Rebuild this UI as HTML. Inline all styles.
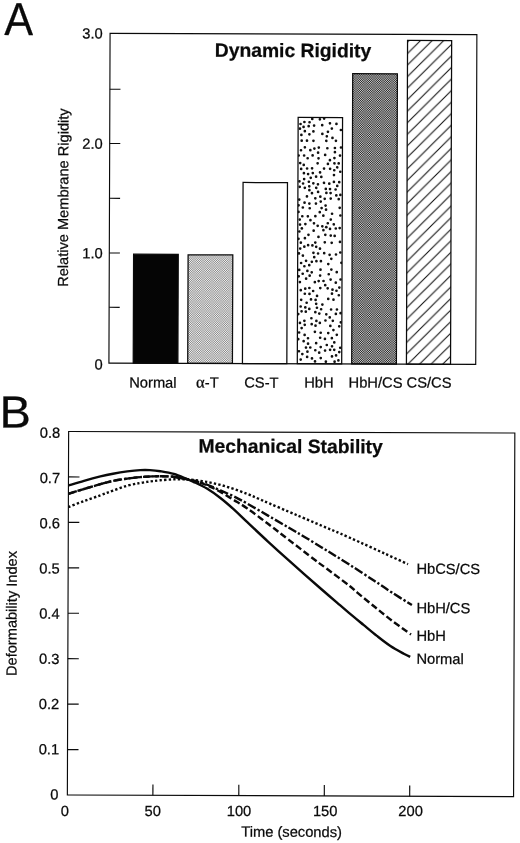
<!DOCTYPE html>
<html lang="en">
<head>
<meta charset="utf-8">
<title>Dynamic Rigidity and Mechanical Stability</title>
<style>
html,body{margin:0;padding:0;background:#fff;}
body{width:520px;height:843px;overflow:hidden;}
svg{display:block;will-change:transform;}
svg text{font-family:"Liberation Sans", "DejaVu Sans", sans-serif;fill:#0a0a0a;stroke:#0a0a0a;stroke-width:0.25px;}
</style>
</head>
<body>
<svg width="520" height="843" viewBox="0 0 520 843">
<rect width="520" height="843" fill="#ffffff"/>
<defs>
<pattern id="ltone" width="9" height="9" patternUnits="userSpaceOnUse" patternTransform="rotate(-0.2 260.0 421.5)"><rect width="9" height="9" fill="#bdbdbd"/><rect x="0" y="0" width="1" height="1" fill="#f5f5f5"/><rect x="1" y="0" width="1" height="1" fill="#888888"/><rect x="2" y="0" width="1" height="1" fill="#e8e8e8"/><rect x="3" y="0" width="1" height="1" fill="#a1a1a1"/><rect x="4" y="0" width="1" height="1" fill="#c7c7c7"/><rect x="5" y="0" width="1" height="1" fill="#c7c7c7"/><rect x="6" y="0" width="1" height="1" fill="#a1a1a1"/><rect x="7" y="0" width="1" height="1" fill="#e8e8e8"/><rect x="8" y="0" width="1" height="1" fill="#888888"/><rect x="0" y="1" width="1" height="1" fill="#888888"/><rect x="1" y="1" width="1" height="1" fill="#eeeeee"/><rect x="2" y="1" width="1" height="1" fill="#959595"/><rect x="3" y="1" width="1" height="1" fill="#d7d7d7"/><rect x="4" y="1" width="1" height="1" fill="#b4b4b4"/><rect x="5" y="1" width="1" height="1" fill="#b4b4b4"/><rect x="6" y="1" width="1" height="1" fill="#d7d7d7"/><rect x="7" y="1" width="1" height="1" fill="#959595"/><rect x="8" y="1" width="1" height="1" fill="#eeeeee"/><rect x="0" y="2" width="1" height="1" fill="#e8e8e8"/><rect x="1" y="2" width="1" height="1" fill="#959595"/><rect x="2" y="2" width="1" height="1" fill="#dedede"/><rect x="3" y="2" width="1" height="1" fill="#a8a8a8"/><rect x="4" y="2" width="1" height="1" fill="#c4c4c4"/><rect x="5" y="2" width="1" height="1" fill="#c4c4c4"/><rect x="6" y="2" width="1" height="1" fill="#a8a8a8"/><rect x="7" y="2" width="1" height="1" fill="#dedede"/><rect x="8" y="2" width="1" height="1" fill="#959595"/><rect x="0" y="3" width="1" height="1" fill="#a1a1a1"/><rect x="1" y="3" width="1" height="1" fill="#d7d7d7"/><rect x="2" y="3" width="1" height="1" fill="#a8a8a8"/><rect x="3" y="3" width="1" height="1" fill="#cbcbcb"/><rect x="4" y="3" width="1" height="1" fill="#b8b8b8"/><rect x="5" y="3" width="1" height="1" fill="#b8b8b8"/><rect x="6" y="3" width="1" height="1" fill="#cbcbcb"/><rect x="7" y="3" width="1" height="1" fill="#a8a8a8"/><rect x="8" y="3" width="1" height="1" fill="#d7d7d7"/><rect x="0" y="4" width="1" height="1" fill="#c7c7c7"/><rect x="1" y="4" width="1" height="1" fill="#b4b4b4"/><rect x="2" y="4" width="1" height="1" fill="#c4c4c4"/><rect x="3" y="4" width="1" height="1" fill="#b8b8b8"/><rect x="4" y="4" width="1" height="1" fill="#bfbfbf"/><rect x="5" y="4" width="1" height="1" fill="#bfbfbf"/><rect x="6" y="4" width="1" height="1" fill="#b8b8b8"/><rect x="7" y="4" width="1" height="1" fill="#c4c4c4"/><rect x="8" y="4" width="1" height="1" fill="#b4b4b4"/><rect x="0" y="5" width="1" height="1" fill="#c7c7c7"/><rect x="1" y="5" width="1" height="1" fill="#b4b4b4"/><rect x="2" y="5" width="1" height="1" fill="#c4c4c4"/><rect x="3" y="5" width="1" height="1" fill="#b8b8b8"/><rect x="4" y="5" width="1" height="1" fill="#bfbfbf"/><rect x="5" y="5" width="1" height="1" fill="#bfbfbf"/><rect x="6" y="5" width="1" height="1" fill="#b8b8b8"/><rect x="7" y="5" width="1" height="1" fill="#c4c4c4"/><rect x="8" y="5" width="1" height="1" fill="#b4b4b4"/><rect x="0" y="6" width="1" height="1" fill="#a1a1a1"/><rect x="1" y="6" width="1" height="1" fill="#d7d7d7"/><rect x="2" y="6" width="1" height="1" fill="#a8a8a8"/><rect x="3" y="6" width="1" height="1" fill="#cbcbcb"/><rect x="4" y="6" width="1" height="1" fill="#b8b8b8"/><rect x="5" y="6" width="1" height="1" fill="#b8b8b8"/><rect x="6" y="6" width="1" height="1" fill="#cbcbcb"/><rect x="7" y="6" width="1" height="1" fill="#a8a8a8"/><rect x="8" y="6" width="1" height="1" fill="#d7d7d7"/><rect x="0" y="7" width="1" height="1" fill="#e8e8e8"/><rect x="1" y="7" width="1" height="1" fill="#959595"/><rect x="2" y="7" width="1" height="1" fill="#dedede"/><rect x="3" y="7" width="1" height="1" fill="#a8a8a8"/><rect x="4" y="7" width="1" height="1" fill="#c4c4c4"/><rect x="5" y="7" width="1" height="1" fill="#c4c4c4"/><rect x="6" y="7" width="1" height="1" fill="#a8a8a8"/><rect x="7" y="7" width="1" height="1" fill="#dedede"/><rect x="8" y="7" width="1" height="1" fill="#959595"/><rect x="0" y="8" width="1" height="1" fill="#888888"/><rect x="1" y="8" width="1" height="1" fill="#eeeeee"/><rect x="2" y="8" width="1" height="1" fill="#959595"/><rect x="3" y="8" width="1" height="1" fill="#d7d7d7"/><rect x="4" y="8" width="1" height="1" fill="#b4b4b4"/><rect x="5" y="8" width="1" height="1" fill="#b4b4b4"/><rect x="6" y="8" width="1" height="1" fill="#d7d7d7"/><rect x="7" y="8" width="1" height="1" fill="#959595"/><rect x="8" y="8" width="1" height="1" fill="#eeeeee"/></pattern>
<pattern id="dtone" width="9" height="9" patternUnits="userSpaceOnUse" patternTransform="rotate(-0.2 260.0 421.5)"><rect width="9" height="9" fill="#787878"/><rect x="0" y="0" width="1" height="1" fill="#cacaca"/><rect x="1" y="0" width="1" height="1" fill="#2b2b2b"/><rect x="2" y="0" width="1" height="1" fill="#b7b7b7"/><rect x="3" y="0" width="1" height="1" fill="#4f4f4f"/><rect x="4" y="0" width="1" height="1" fill="#868686"/><rect x="5" y="0" width="1" height="1" fill="#868686"/><rect x="6" y="0" width="1" height="1" fill="#4f4f4f"/><rect x="7" y="0" width="1" height="1" fill="#b7b7b7"/><rect x="8" y="0" width="1" height="1" fill="#2b2b2b"/><rect x="0" y="1" width="1" height="1" fill="#2b2b2b"/><rect x="1" y="1" width="1" height="1" fill="#c0c0c0"/><rect x="2" y="1" width="1" height="1" fill="#3d3d3d"/><rect x="3" y="1" width="1" height="1" fill="#9f9f9f"/><rect x="4" y="1" width="1" height="1" fill="#6b6b6b"/><rect x="5" y="1" width="1" height="1" fill="#6b6b6b"/><rect x="6" y="1" width="1" height="1" fill="#9f9f9f"/><rect x="7" y="1" width="1" height="1" fill="#3d3d3d"/><rect x="8" y="1" width="1" height="1" fill="#c0c0c0"/><rect x="0" y="2" width="1" height="1" fill="#b7b7b7"/><rect x="1" y="2" width="1" height="1" fill="#3d3d3d"/><rect x="2" y="2" width="1" height="1" fill="#a8a8a8"/><rect x="3" y="2" width="1" height="1" fill="#595959"/><rect x="4" y="2" width="1" height="1" fill="#838383"/><rect x="5" y="2" width="1" height="1" fill="#838383"/><rect x="6" y="2" width="1" height="1" fill="#595959"/><rect x="7" y="2" width="1" height="1" fill="#a8a8a8"/><rect x="8" y="2" width="1" height="1" fill="#3d3d3d"/><rect x="0" y="3" width="1" height="1" fill="#4f4f4f"/><rect x="1" y="3" width="1" height="1" fill="#9f9f9f"/><rect x="2" y="3" width="1" height="1" fill="#595959"/><rect x="3" y="3" width="1" height="1" fill="#8c8c8c"/><rect x="4" y="3" width="1" height="1" fill="#717171"/><rect x="5" y="3" width="1" height="1" fill="#717171"/><rect x="6" y="3" width="1" height="1" fill="#8d8d8d"/><rect x="7" y="3" width="1" height="1" fill="#595959"/><rect x="8" y="3" width="1" height="1" fill="#9f9f9f"/><rect x="0" y="4" width="1" height="1" fill="#868686"/><rect x="1" y="4" width="1" height="1" fill="#6b6b6b"/><rect x="2" y="4" width="1" height="1" fill="#838383"/><rect x="3" y="4" width="1" height="1" fill="#717171"/><rect x="4" y="4" width="1" height="1" fill="#7a7a7a"/><rect x="5" y="4" width="1" height="1" fill="#7a7a7a"/><rect x="6" y="4" width="1" height="1" fill="#717171"/><rect x="7" y="4" width="1" height="1" fill="#838383"/><rect x="8" y="4" width="1" height="1" fill="#6b6b6b"/><rect x="0" y="5" width="1" height="1" fill="#868686"/><rect x="1" y="5" width="1" height="1" fill="#6b6b6b"/><rect x="2" y="5" width="1" height="1" fill="#838383"/><rect x="3" y="5" width="1" height="1" fill="#717171"/><rect x="4" y="5" width="1" height="1" fill="#7a7a7a"/><rect x="5" y="5" width="1" height="1" fill="#7a7a7a"/><rect x="6" y="5" width="1" height="1" fill="#717171"/><rect x="7" y="5" width="1" height="1" fill="#838383"/><rect x="8" y="5" width="1" height="1" fill="#6b6b6b"/><rect x="0" y="6" width="1" height="1" fill="#4f4f4f"/><rect x="1" y="6" width="1" height="1" fill="#9f9f9f"/><rect x="2" y="6" width="1" height="1" fill="#595959"/><rect x="3" y="6" width="1" height="1" fill="#8d8d8d"/><rect x="4" y="6" width="1" height="1" fill="#717171"/><rect x="5" y="6" width="1" height="1" fill="#717171"/><rect x="6" y="6" width="1" height="1" fill="#8d8d8d"/><rect x="7" y="6" width="1" height="1" fill="#595959"/><rect x="8" y="6" width="1" height="1" fill="#9f9f9f"/><rect x="0" y="7" width="1" height="1" fill="#b7b7b7"/><rect x="1" y="7" width="1" height="1" fill="#3d3d3d"/><rect x="2" y="7" width="1" height="1" fill="#a8a8a8"/><rect x="3" y="7" width="1" height="1" fill="#595959"/><rect x="4" y="7" width="1" height="1" fill="#838383"/><rect x="5" y="7" width="1" height="1" fill="#838383"/><rect x="6" y="7" width="1" height="1" fill="#595959"/><rect x="7" y="7" width="1" height="1" fill="#a8a8a8"/><rect x="8" y="7" width="1" height="1" fill="#3d3d3d"/><rect x="0" y="8" width="1" height="1" fill="#2b2b2b"/><rect x="1" y="8" width="1" height="1" fill="#c0c0c0"/><rect x="2" y="8" width="1" height="1" fill="#3d3d3d"/><rect x="3" y="8" width="1" height="1" fill="#9f9f9f"/><rect x="4" y="8" width="1" height="1" fill="#6b6b6b"/><rect x="5" y="8" width="1" height="1" fill="#6b6b6b"/><rect x="6" y="8" width="1" height="1" fill="#9f9f9f"/><rect x="7" y="8" width="1" height="1" fill="#3d3d3d"/><rect x="8" y="8" width="1" height="1" fill="#c0c0c0"/></pattern>
<pattern id="hatch" width="11.56" height="11.56" patternUnits="userSpaceOnUse" x="8.37" y="0"><path d="M-1,1 L1,-1 M0,11.56 L11.56,0 M10.56,12.56 L12.56,10.56" stroke="#111" stroke-width="1.1" fill="none"/></pattern>
</defs>
<g transform="rotate(0.2 260.0 421.5)">
<g id="panelA">
<rect x="133.02" y="254.66" width="44.65" height="108.93" fill="#050505" stroke="#0a0a0a" stroke-width="1.25"/>
<rect x="187.52" y="255.02" width="44.7" height="108.57" fill="url(#ltone)" stroke="#0a0a0a" stroke-width="1.25"/>
<rect x="242.24" y="182.53" width="44.4" height="181.06" fill="#ffffff" stroke="#0a0a0a" stroke-width="1.25"/>
<rect x="297.1" y="117.34" width="44.4" height="246.25" fill="#ffffff" stroke="#0a0a0a" stroke-width="1.25"/>
<clipPath id="dotclip"><rect x="297.1" y="117.34" width="44.4" height="246.25"/></clipPath>
<g fill="#111" clip-path="url(#dotclip)"><circle cx="311.69" cy="155.26" r="1.35"/><circle cx="325.82" cy="136.07" r="1.35"/><circle cx="320.85" cy="207.85" r="1.35"/><circle cx="300.21" cy="242.54" r="1.35"/><circle cx="299.32" cy="224.48" r="1.35"/><circle cx="300.72" cy="140.54" r="1.35"/><circle cx="316.04" cy="320.72" r="1.35"/><circle cx="303.05" cy="172.98" r="1.35"/><circle cx="324.81" cy="350.3" r="1.35"/><circle cx="322.63" cy="215.43" r="1.35"/><circle cx="339.88" cy="129.74" r="1.35"/><circle cx="334.79" cy="189.22" r="1.35"/><circle cx="303.93" cy="147.17" r="1.35"/><circle cx="311.03" cy="318.09" r="1.35"/><circle cx="305.51" cy="260.69" r="1.35"/><circle cx="325.3" cy="209.49" r="1.35"/><circle cx="321.36" cy="133.71" r="1.35"/><circle cx="300.28" cy="168.75" r="1.35"/><circle cx="327.1" cy="223" r="1.35"/><circle cx="311.27" cy="261.66" r="1.35"/><circle cx="317.28" cy="191.71" r="1.35"/><circle cx="332.02" cy="289.42" r="1.35"/><circle cx="320.39" cy="332.54" r="1.35"/><circle cx="329.21" cy="188.82" r="1.35"/><circle cx="340.05" cy="147.24" r="1.35"/><circle cx="315.76" cy="303.65" r="1.35"/><circle cx="304.27" cy="238.02" r="1.35"/><circle cx="299.4" cy="281.89" r="1.35"/><circle cx="330.73" cy="258.59" r="1.35"/><circle cx="335.52" cy="195.13" r="1.35"/><circle cx="327.74" cy="263.82" r="1.35"/><circle cx="322.75" cy="230" r="1.35"/><circle cx="333.99" cy="349.56" r="1.35"/><circle cx="318.18" cy="280.9" r="1.35"/><circle cx="300.32" cy="290.03" r="1.35"/><circle cx="325.66" cy="361.41" r="1.35"/><circle cx="314.37" cy="282" r="1.35"/><circle cx="298.68" cy="231.34" r="1.35"/><circle cx="300.25" cy="306.37" r="1.35"/><circle cx="303.29" cy="178.95" r="1.35"/><circle cx="314.59" cy="331.63" r="1.35"/><circle cx="301.18" cy="228.28" r="1.35"/><circle cx="333.09" cy="329.81" r="1.35"/><circle cx="309.73" cy="219.99" r="1.35"/><circle cx="339.08" cy="155.28" r="1.35"/><circle cx="323.15" cy="182.65" r="1.35"/><circle cx="313.65" cy="256.96" r="1.35"/><circle cx="338.88" cy="287.34" r="1.35"/><circle cx="319.97" cy="269.5" r="1.35"/><circle cx="326.91" cy="131.56" r="1.35"/><circle cx="336.56" cy="309.24" r="1.35"/><circle cx="335.48" cy="313.62" r="1.35"/><circle cx="314.65" cy="215.99" r="1.35"/><circle cx="302.17" cy="273.59" r="1.35"/><circle cx="300.39" cy="134.83" r="1.35"/><circle cx="306.72" cy="158.07" r="1.35"/><circle cx="312.39" cy="131.21" r="1.35"/><circle cx="297.71" cy="155.36" r="1.35"/><circle cx="302.09" cy="207.34" r="1.35"/><circle cx="298.8" cy="332.34" r="1.35"/><circle cx="324.23" cy="154.7" r="1.35"/><circle cx="308.6" cy="203.37" r="1.35"/><circle cx="313.43" cy="148.41" r="1.35"/><circle cx="334.38" cy="361.41" r="1.35"/><circle cx="317.83" cy="236.76" r="1.35"/><circle cx="312.5" cy="183.14" r="1.35"/><circle cx="333.51" cy="157.85" r="1.35"/><circle cx="298.7" cy="351.1" r="1.35"/><circle cx="321.17" cy="124.96" r="1.35"/><circle cx="320.52" cy="357.83" r="1.35"/><circle cx="308.98" cy="208.09" r="1.35"/><circle cx="304.92" cy="307.28" r="1.35"/><circle cx="320.71" cy="309.02" r="1.35"/><circle cx="311.94" cy="172.93" r="1.35"/><circle cx="333.05" cy="299.43" r="1.35"/><circle cx="307.5" cy="245.04" r="1.35"/><circle cx="313.06" cy="125.43" r="1.35"/><circle cx="298.91" cy="186.73" r="1.35"/><circle cx="308.9" cy="287.84" r="1.35"/><circle cx="339.02" cy="227.8" r="1.35"/><circle cx="338.18" cy="360.17" r="1.35"/><circle cx="338.96" cy="207.59" r="1.35"/><circle cx="307.23" cy="173.86" r="1.35"/><circle cx="306.2" cy="168.36" r="1.35"/><circle cx="324.66" cy="338.7" r="1.35"/><circle cx="334.01" cy="235.69" r="1.35"/><circle cx="325.91" cy="314.06" r="1.35"/><circle cx="330.11" cy="235.34" r="1.35"/><circle cx="305.41" cy="311.49" r="1.35"/><circle cx="339.68" cy="215.22" r="1.35"/><circle cx="315.04" cy="350.07" r="1.35"/><circle cx="329.01" cy="159.95" r="1.35"/><circle cx="303.19" cy="155.34" r="1.35"/><circle cx="304.02" cy="320.63" r="1.35"/><circle cx="340.05" cy="279.21" r="1.35"/><circle cx="312.84" cy="252.63" r="1.35"/><circle cx="303.36" cy="121.83" r="1.35"/><circle cx="320.45" cy="346.85" r="1.35"/><circle cx="333.39" cy="170" r="1.35"/><circle cx="308.58" cy="190.05" r="1.35"/><circle cx="303.36" cy="341.07" r="1.35"/><circle cx="312.99" cy="230.48" r="1.35"/><circle cx="315.87" cy="342.96" r="1.35"/><circle cx="319.37" cy="248.51" r="1.35"/><circle cx="316.72" cy="163.16" r="1.35"/><circle cx="297.87" cy="313.94" r="1.35"/><circle cx="329.03" cy="254.54" r="1.35"/><circle cx="311.78" cy="245.21" r="1.35"/><circle cx="302.29" cy="255.48" r="1.35"/><circle cx="308.44" cy="186.12" r="1.35"/><circle cx="331.06" cy="242.61" r="1.35"/><circle cx="321.97" cy="304.35" r="1.35"/><circle cx="324.16" cy="242.08" r="1.35"/><circle cx="319.83" cy="287.89" r="1.35"/><circle cx="327.91" cy="332.88" r="1.35"/><circle cx="338.4" cy="181.88" r="1.35"/><circle cx="333.99" cy="151.91" r="1.35"/><circle cx="331.57" cy="337.89" r="1.35"/><circle cx="304.37" cy="293.61" r="1.35"/><circle cx="335.84" cy="355.15" r="1.35"/><circle cx="307.19" cy="351.47" r="1.35"/><circle cx="340.46" cy="322.09" r="1.35"/><circle cx="304.68" cy="223.96" r="1.35"/><circle cx="319.98" cy="201.34" r="1.35"/><circle cx="306.16" cy="196.3" r="1.35"/><circle cx="328.9" cy="123.11" r="1.35"/><circle cx="321.64" cy="226.15" r="1.35"/><circle cx="298.48" cy="199.48" r="1.35"/><circle cx="300.48" cy="359.44" r="1.35"/><circle cx="331.76" cy="356.17" r="1.35"/><circle cx="302.23" cy="183.34" r="1.35"/><circle cx="309.39" cy="150.05" r="1.35"/><circle cx="333.08" cy="181.64" r="1.35"/><circle cx="301.32" cy="327.91" r="1.35"/><circle cx="320.46" cy="176.7" r="1.35"/><circle cx="311.18" cy="192.99" r="1.35"/><circle cx="308.52" cy="122.1" r="1.35"/><circle cx="333.08" cy="224.12" r="1.35"/><circle cx="314.68" cy="242.36" r="1.35"/><circle cx="328.23" cy="274" r="1.35"/><circle cx="315.18" cy="203.41" r="1.35"/><circle cx="300.05" cy="150.12" r="1.35"/><circle cx="300.76" cy="299.68" r="1.35"/><circle cx="335.31" cy="282.46" r="1.35"/><circle cx="309.88" cy="177.62" r="1.35"/><circle cx="339.72" cy="252.24" r="1.35"/><circle cx="297.75" cy="211.75" r="1.35"/><circle cx="301.58" cy="216.12" r="1.35"/><circle cx="299.5" cy="123.85" r="1.35"/><circle cx="330.13" cy="279.28" r="1.35"/><circle cx="314.53" cy="198.16" r="1.35"/><circle cx="299.59" cy="322.78" r="1.35"/><circle cx="336.23" cy="271.88" r="1.35"/><circle cx="329.4" cy="317.14" r="1.35"/><circle cx="303.72" cy="246.53" r="1.35"/><circle cx="319.49" cy="322.7" r="1.35"/><circle cx="332.46" cy="320.61" r="1.35"/><circle cx="327.2" cy="288.04" r="1.35"/><circle cx="307.64" cy="125.97" r="1.35"/><circle cx="324.75" cy="284.94" r="1.35"/><circle cx="318.84" cy="119.15" r="1.35"/><circle cx="329.21" cy="168.57" r="1.35"/><circle cx="319.04" cy="211.97" r="1.35"/><circle cx="330.83" cy="269.35" r="1.35"/><circle cx="329.81" cy="192.85" r="1.35"/><circle cx="317.85" cy="147.35" r="1.35"/><circle cx="336.31" cy="167.11" r="1.35"/><circle cx="339.96" cy="347.49" r="1.35"/><circle cx="317.12" cy="184.1" r="1.35"/><circle cx="336.01" cy="290.49" r="1.35"/><circle cx="307.7" cy="338.06" r="1.35"/><circle cx="297.86" cy="238.69" r="1.35"/><circle cx="303.78" cy="202.53" r="1.35"/><circle cx="311.36" cy="323.99" r="1.35"/><circle cx="333.95" cy="147.72" r="1.35"/><circle cx="340.85" cy="262.54" r="1.35"/><circle cx="313.28" cy="223.11" r="1.35"/><circle cx="310.04" cy="347.33" r="1.35"/><circle cx="329.34" cy="228.69" r="1.35"/><circle cx="310.57" cy="299.22" r="1.35"/><circle cx="319.18" cy="172.19" r="1.35"/><circle cx="317.14" cy="152.51" r="1.35"/><circle cx="306.01" cy="140.54" r="1.35"/><circle cx="312.47" cy="140.64" r="1.35"/><circle cx="308.03" cy="181.58" r="1.35"/><circle cx="330.09" cy="219.37" r="1.35"/><circle cx="315.58" cy="246.63" r="1.35"/><circle cx="338.91" cy="326.06" r="1.35"/><circle cx="335.41" cy="123.68" r="1.35"/><circle cx="323.07" cy="118.39" r="1.35"/><circle cx="338.37" cy="294.99" r="1.35"/><circle cx="317.46" cy="253.32" r="1.35"/><circle cx="307.75" cy="343.5" r="1.35"/><circle cx="325.59" cy="192.69" r="1.35"/><circle cx="320.36" cy="261.01" r="1.35"/><circle cx="326.53" cy="344.78" r="1.35"/><circle cx="339.6" cy="194.64" r="1.35"/><circle cx="333.13" cy="174.83" r="1.35"/><circle cx="306.9" cy="356.76" r="1.35"/><circle cx="303.83" cy="131.03" r="1.35"/><circle cx="336.5" cy="334.6" r="1.35"/><circle cx="337.95" cy="198.93" r="1.35"/><circle cx="305.72" cy="347.4" r="1.35"/><circle cx="330.82" cy="128.29" r="1.35"/><circle cx="309.03" cy="293.74" r="1.35"/><circle cx="307.81" cy="234.65" r="1.35"/><circle cx="339.03" cy="351.82" r="1.35"/><circle cx="337.8" cy="163.12" r="1.35"/><circle cx="323.94" cy="198.57" r="1.35"/><circle cx="331.49" cy="137.68" r="1.35"/><circle cx="306.23" cy="302.61" r="1.35"/><circle cx="308.39" cy="134.19" r="1.35"/><circle cx="311.77" cy="358.26" r="1.35"/><circle cx="330.01" cy="325.65" r="1.35"/><circle cx="326.41" cy="148" r="1.35"/><circle cx="304.33" cy="334.75" r="1.35"/><circle cx="314.81" cy="361.25" r="1.35"/><circle cx="334.01" cy="342.14" r="1.35"/><circle cx="302.85" cy="164.74" r="1.35"/><circle cx="335.12" cy="228.26" r="1.35"/><circle cx="308.93" cy="308.71" r="1.35"/><circle cx="308.71" cy="265.05" r="1.35"/><circle cx="327.01" cy="163.66" r="1.35"/><circle cx="311.19" cy="168.13" r="1.35"/><circle cx="325.31" cy="140.65" r="1.35"/><circle cx="304.77" cy="288.54" r="1.35"/><circle cx="315.4" cy="187.68" r="1.35"/><circle cx="297.96" cy="339.02" r="1.35"/><circle cx="317.61" cy="158.12" r="1.35"/><circle cx="298.34" cy="253.34" r="1.35"/><circle cx="304" cy="187.68" r="1.35"/><circle cx="315.18" cy="325.49" r="1.35"/><circle cx="333.52" cy="163.12" r="1.35"/><circle cx="307.13" cy="216.18" r="1.35"/><circle cx="323.6" cy="252.97" r="1.35"/><circle cx="315.85" cy="260.94" r="1.35"/><circle cx="317" cy="225.63" r="1.35"/><circle cx="298.71" cy="269.82" r="1.35"/><circle cx="330.69" cy="309.24" r="1.35"/><circle cx="318.95" cy="352.48" r="1.35"/><circle cx="331.76" cy="346.11" r="1.35"/><circle cx="336.43" cy="185.65" r="1.35"/><circle cx="319.56" cy="196.44" r="1.35"/><circle cx="299.29" cy="162.91" r="1.35"/><circle cx="335.41" cy="254.22" r="1.35"/><circle cx="323.01" cy="280.78" r="1.35"/><circle cx="311.21" cy="118.78" r="1.35"/><circle cx="319.85" cy="337.53" r="1.35"/><circle cx="297.82" cy="205.22" r="1.35"/><circle cx="323.15" cy="168.32" r="1.35"/><circle cx="324.66" cy="234.58" r="1.35"/><circle cx="298.2" cy="276.2" r="1.35"/><circle cx="325.59" cy="226.95" r="1.35"/><circle cx="299.6" cy="248.44" r="1.35"/><circle cx="315.24" cy="176.51" r="1.35"/><circle cx="319.6" cy="275.37" r="1.35"/><circle cx="331.53" cy="293.44" r="1.35"/><circle cx="328.45" cy="183.44" r="1.35"/><circle cx="309.16" cy="275.47" r="1.35"/><circle cx="339.4" cy="171.45" r="1.35"/><circle cx="329.84" cy="349.56" r="1.35"/><circle cx="329.94" cy="198.34" r="1.35"/><circle cx="316.59" cy="295.7" r="1.35"/><circle cx="306.86" cy="270.73" r="1.35"/><circle cx="298.94" cy="128.54" r="1.35"/><circle cx="327.81" cy="298.67" r="1.35"/><circle cx="300.54" cy="262.86" r="1.35"/><circle cx="302.54" cy="126.77" r="1.35"/><circle cx="325.1" cy="320.28" r="1.35"/><circle cx="324.98" cy="188.68" r="1.35"/><circle cx="298.61" cy="181.17" r="1.35"/><circle cx="339.35" cy="241.63" r="1.35"/><circle cx="299.04" cy="219.41" r="1.35"/><circle cx="316.56" cy="307.54" r="1.35"/><circle cx="312.68" cy="290.81" r="1.35"/><circle cx="334.95" cy="140.59" r="1.35"/><circle cx="318.93" cy="313.35" r="1.35"/><circle cx="301.2" cy="311.19" r="1.35"/><circle cx="324.83" cy="205.38" r="1.35"/><circle cx="304.41" cy="324.7" r="1.35"/><circle cx="302.1" cy="353.89" r="1.35"/><circle cx="340.2" cy="312.89" r="1.35"/><circle cx="314.94" cy="311.94" r="1.35"/><circle cx="303.83" cy="266.1" r="1.35"/><circle cx="315.19" cy="299.69" r="1.35"/><circle cx="311.22" cy="272.11" r="1.35"/><circle cx="305.61" cy="278.53" r="1.35"/><circle cx="331.32" cy="213.48" r="1.35"/></g>
<rect x="351.49" y="73.35" width="44.7" height="290.24" fill="url(#dtone)" stroke="#0a0a0a" stroke-width="1.25"/>
<rect x="406.23" y="39.96" width="44.1" height="323.64" fill="url(#hatch)" stroke="#0a0a0a" stroke-width="1.25"/>
<rect x="108.72" y="33.93" width="366.8" height="329.67" fill="none" stroke="#0a0a0a" stroke-width="1.15"/>
<text x="101.45" y="39.21" font-size="14.7" text-anchor="end">3.0</text>
<line x1="108.72" y1="89.78" x2="119.32" y2="89.78" stroke="#0a0a0a" stroke-width="1.15"/>
<line x1="108.72" y1="144.03" x2="119.32" y2="144.03" stroke="#0a0a0a" stroke-width="1.15"/>
<text x="101.83" y="149.31" font-size="14.7" text-anchor="end">2.0</text>
<line x1="108.72" y1="198.82" x2="119.32" y2="198.82" stroke="#0a0a0a" stroke-width="1.15"/>
<line x1="108.72" y1="253.52" x2="119.32" y2="253.52" stroke="#0a0a0a" stroke-width="1.15"/>
<text x="102.21" y="258.81" font-size="14.7" text-anchor="end">1.0</text>
<line x1="108.72" y1="307.82" x2="119.32" y2="307.82" stroke="#0a0a0a" stroke-width="1.15"/>
<text x="102.6" y="370.01" font-size="14.7" text-anchor="end">0</text>
<text x="152.78" y="387.97" font-size="14.7" text-anchor="middle">Normal</text>
<text x="207.28" y="387.78" font-size="14.7" text-anchor="middle"><tspan font-family="Liberation Serif, DejaVu Serif, serif" font-size="16.5">α</tspan>-T</text>
<text x="261.28" y="387.6" font-size="14.7" text-anchor="middle">CS-T</text>
<text x="318.78" y="387.39" font-size="14.7" text-anchor="middle">HbH</text>
<text x="375.38" y="387.2" font-size="14.7" text-anchor="middle">HbH/CS</text>
<text x="428.88" y="387.01" font-size="14.7" text-anchor="middle">CS/CS</text>
<text x="291.73" y="56.89" font-size="19.3" font-weight="bold" text-anchor="middle">Dynamic Rigidity</text>
<text transform="translate(67.42 198.27) rotate(-90)" font-size="14.6" text-anchor="middle">Relative Membrane Rigidity</text>
<text transform="translate(2.85 36) scale(0.935 1)" font-size="46.2" stroke="#0a0a0a" stroke-width="0.5">A</text>
</g>
<g id="panelB">
<rect x="68.67" y="432.14" width="446.2" height="363.55" fill="none" stroke="#0a0a0a" stroke-width="1.15"/>
<text x="60.27" y="438.5" font-size="14.7" text-anchor="end">0.8</text>
<line x1="68.67" y1="477.58" x2="79.67" y2="477.58" stroke="#0a0a0a" stroke-width="1.15"/>
<text x="60.27" y="483.73" font-size="14.7" text-anchor="end">0.7</text>
<line x1="68.67" y1="523.03" x2="79.67" y2="523.03" stroke="#0a0a0a" stroke-width="1.15"/>
<text x="60.27" y="528.95" font-size="14.7" text-anchor="end">0.6</text>
<line x1="68.67" y1="568.47" x2="79.67" y2="568.47" stroke="#0a0a0a" stroke-width="1.15"/>
<text x="60.27" y="574.17" font-size="14.7" text-anchor="end">0.5</text>
<line x1="68.67" y1="613.92" x2="79.67" y2="613.92" stroke="#0a0a0a" stroke-width="1.15"/>
<text x="60.27" y="619.4" font-size="14.7" text-anchor="end">0.4</text>
<line x1="68.67" y1="659.36" x2="79.67" y2="659.36" stroke="#0a0a0a" stroke-width="1.15"/>
<text x="60.27" y="664.62" font-size="14.7" text-anchor="end">0.3</text>
<line x1="68.67" y1="704.8" x2="79.67" y2="704.8" stroke="#0a0a0a" stroke-width="1.15"/>
<text x="60.27" y="709.85" font-size="14.7" text-anchor="end">0.2</text>
<line x1="68.67" y1="750.25" x2="79.67" y2="750.25" stroke="#0a0a0a" stroke-width="1.15"/>
<text x="60.27" y="755.07" font-size="14.7" text-anchor="end">0.1</text>
<text x="59.67" y="800.29" font-size="14.7" text-anchor="end">0</text>
<text x="66.28" y="816.78" font-size="14.7" text-anchor="middle">0</text>
<line x1="154.2" y1="795.69" x2="154.2" y2="784.89" stroke="#0a0a0a" stroke-width="1.15"/>
<text x="154.08" y="816.47" font-size="14.7" text-anchor="middle">50</text>
<line x1="240.1" y1="795.69" x2="240.1" y2="784.89" stroke="#0a0a0a" stroke-width="1.15"/>
<text x="240.38" y="816.17" font-size="14.7" text-anchor="middle">100</text>
<line x1="325.6" y1="795.69" x2="325.6" y2="784.89" stroke="#0a0a0a" stroke-width="1.15"/>
<text x="326.58" y="815.87" font-size="14.7" text-anchor="middle">150</text>
<line x1="411" y1="795.69" x2="411" y2="784.89" stroke="#0a0a0a" stroke-width="1.15"/>
<text x="411.98" y="815.57" font-size="14.7" text-anchor="middle">200</text>
<text x="293.05" y="836.69" font-size="14.7" text-anchor="middle">Time (seconds)</text>
<text x="290.71" y="452.79" font-size="19.3" font-weight="bold" text-anchor="middle">Mechanical Stability</text>
<text transform="translate(17.27 614.35) rotate(-90)" font-size="14.6" text-anchor="middle">Deformability Index</text>
<text transform="translate(-0.58 428.41) scale(1.045 1)" font-size="45" stroke="#0a0a0a" stroke-width="0.5">B</text>
<g fill="none" stroke="#0a0a0a" stroke-width="2.4">
<path d="M68.6,507.77 C71.21,506.74 78.94,503.6 84.28,501.61 C89.62,499.63 95.83,497.61 100.66,495.86 C105.49,494.11 108.76,492.73 113.24,491.11 C117.72,489.5 123.03,487.45 127.52,486.16 C132.02,484.88 136.43,484.13 140.22,483.42 C144,482.71 146.88,482.35 150.21,481.88 C153.54,481.42 156.21,481.03 160.21,480.65 C164.2,480.27 169.65,479.78 174.2,479.6 C178.75,479.42 184.25,479.46 187.5,479.55 C190.75,479.64 190.44,479.71 193.7,480.13 C196.97,480.55 202.62,481.27 207.11,482.08 C211.6,482.9 216.13,483.87 220.62,485.04 C225.11,486.21 229.55,487.61 234.04,489.09 C238.52,490.58 243.51,492.37 247.55,493.94 C251.59,495.51 254.48,496.89 258.27,498.51 C262.06,500.13 265.2,501.5 270.29,503.66 C275.38,505.83 282.97,509.04 288.81,511.5 C294.66,513.96 298.93,515.75 305.34,518.44 C311.75,521.14 321.43,525.22 327.27,527.67 C333.11,530.11 334.87,530.74 340.39,533.12 C345.92,535.5 352.91,538.59 360.42,541.95 C367.93,545.31 377.45,549.64 385.46,553.26 C393.47,556.88 404.66,561.95 408.5,563.68" stroke-dasharray="2.35 2.2"/>
<path d="M68.55,494.57 C71.17,493.74 78.89,491.25 84.24,489.61 C89.58,487.98 95.79,486.12 100.62,484.76 C105.45,483.39 108.73,482.36 113.21,481.41 C117.69,480.46 123,479.71 127.5,479.06 C132,478.41 136.08,477.9 140.19,477.52 C144.31,477.14 148.36,476.92 152.19,476.78 C156.03,476.63 159.53,476.58 163.19,476.64 C166.86,476.69 170.14,476.61 174.19,477.1 C178.25,477.59 183.67,478.78 187.5,479.55 C191.34,480.32 193.76,480.78 197.21,481.72 C200.66,482.66 204.32,483.71 208.22,485.18 C212.13,486.65 216.33,488.65 220.64,490.54 C224.95,492.42 229.57,494.31 234.06,496.49 C238.55,498.68 241.88,500.46 247.59,503.64 C253.3,506.82 261.45,511.61 268.33,515.57 C275.21,519.53 282.69,523.82 288.87,527.4 C295.05,530.98 298.99,533.21 305.4,537.04 C311.82,540.87 319.83,545.76 327.35,550.37 C334.87,554.97 342.53,559.65 350.5,564.68 C358.47,569.72 368.16,576.04 375.16,580.6 C382.16,585.16 386.27,588.04 392.5,592.04 C398.73,596.03 409.2,602.48 412.54,604.57" stroke-dasharray="8.9 2.2 2.3 2.2"/>
<path d="M68.55,494.57 C71.17,493.74 78.89,491.25 84.24,489.61 C89.58,487.98 95.79,486.12 100.62,484.76 C105.45,483.39 108.73,482.36 113.21,481.41 C117.69,480.46 123,479.71 127.5,479.06 C132,478.41 136.08,477.9 140.19,477.52 C144.31,477.14 148.36,476.92 152.19,476.78 C156.03,476.63 159.53,476.58 163.19,476.64 C166.86,476.69 170.14,476.61 174.19,477.1 C178.25,477.59 183.67,478.73 187.5,479.55 C191.34,480.37 193.76,480.96 197.21,482.02 C200.66,483.07 204.32,484.21 208.22,485.88 C212.13,487.55 216.34,489.67 220.65,492.04 C224.95,494.41 229.58,497.36 234.07,500.09 C238.57,502.83 241.89,504.5 247.6,508.44 C253.32,512.39 261.47,518.6 268.36,523.77 C275.24,528.95 281.06,533.49 288.91,539.5 C296.77,545.51 309.07,554.96 315.48,559.81 C321.9,564.65 321.57,564.22 327.41,568.57 C333.26,572.91 345.49,581.94 350.57,585.88 C355.65,589.83 353.78,588.84 357.9,592.26 C362.01,595.68 369.46,601.75 375.25,606.4 C381.03,611.05 386.51,615.54 392.59,620.14 C398.68,624.73 408.55,631.67 411.74,633.97" stroke-dasharray="6.6 3.0"/>
<path d="M68.52,486.27 C71.14,485.46 78.86,482.97 84.21,481.41 C89.55,479.86 95.76,478.16 100.59,476.96 C105.42,475.76 108.7,475.06 113.18,474.21 C117.66,473.36 122.94,472.48 127.47,471.86 C132.01,471.25 136.59,470.75 140.37,470.52 C144.15,470.29 146.8,470.31 150.17,470.48 C153.54,470.66 156.61,470.93 160.57,471.55 C164.54,472.17 169.5,472.88 173.98,474.2 C178.47,475.52 184.21,478.15 187.5,479.45 C190.79,480.76 190.44,480.48 193.71,482.03 C196.98,483.59 202.64,486.1 207.13,488.78 C211.63,491.47 216.17,494.69 220.67,498.14 C225.16,501.59 229.61,505.47 234.11,509.49 C238.6,513.51 241.93,516.9 247.65,522.24 C253.37,527.59 261.53,535.26 268.42,541.57 C275.31,547.88 280.09,552.23 288.98,560.1 C297.88,567.97 313.17,581.32 321.78,588.79 C330.39,596.26 335.49,600.54 340.64,604.92 C345.79,609.3 348.75,611.81 352.68,615.08 C356.6,618.35 360.05,621.14 364.21,624.54 C368.37,627.94 373.15,631.99 377.65,635.49 C382.14,638.99 386.69,642.59 391.18,645.54 C395.68,648.49 401.3,651.41 404.61,653.2 C407.92,654.99 409.95,655.76 411.02,656.27"/>
</g>
<text x="416.93" y="573.25" font-size="14.7">HbCS/CS</text>
<text x="417.07" y="612.45" font-size="14.7">HbH/CS</text>
<text x="417.16" y="640.25" font-size="14.7">HbH</text>
<text x="417.24" y="663.25" font-size="14.7">Normal</text>
</g>
</g>
</svg>
</body>
</html>
